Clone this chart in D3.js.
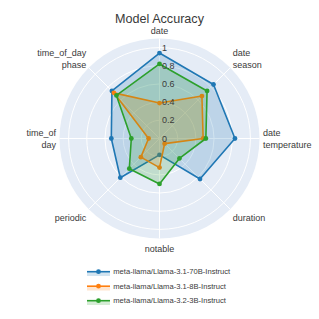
<!DOCTYPE html>
<html>
<head>
<meta charset="utf-8">
<script src="https://cdn.jsdelivr.net/npm/d3@7"></script>
<style>
	body { margin: 0; background: #fff; }
	text { font-family: "Liberation Sans", Arial, sans-serif; fill: #3a3a3a; }
</style>
</head>
<body>
<svg width="319" height="319"></svg>
<script>
const categories = ['date', 'date<br>season', 'date<br>temperature', 'duration', 'notable', 'periodic', 'time_of<br>day', 'time_of_day<br>phase'];
const seriesNames = ['meta-llama/Llama-3.1-70B-Instruct', 'meta-llama/Llama-3.1-8B-Instruct', 'meta-llama/Llama-3.2-3B-Instruct'];
const llama70b = [0.94, 0.84, 0.83, 0.63, 0.18, 0.61, 0.53, 0.74];
const llama8b = [0.39, 0.66, 0.48, 0.08, 0.32, 0.29, 0.12, 0.71];
const llama3b = [0.82, 0.74, 0.51, 0.31, 0.50, 0.47, 0.31, 0.67];
const radialTicks = [0, 0.2, 0.4, 0.6, 0.8, 1];

const colours = ['#1f77b4', '#ff7f0e', '#2ca02c'];
const series = [llama70b, llama8b, llama3b];

const svg = d3.select('svg');
const cx = 159.5, cy = 138.5, outer = 100;

const r = d3.scaleLinear().domain([0, 1.1]).range([0, outer]);
const angle = d3.scaleLinear().domain([0, categories.length]).range([0, 2 * Math.PI]);

const px = (i, v) => cx + r(v) * Math.sin(angle(i));
const py = (i, v) => cy - r(v) * Math.cos(angle(i));

svg.append('text')
	.attr('x', 159.5)
	.attr('y', 23)
	.attr('text-anchor', 'middle')
	.attr('font-size', 12.6)
	.text('Model Accuracy');

const polar = svg.append('g');

polar.append('circle')
	.attr('cx', cx).attr('cy', cy).attr('r', outer)
	.attr('fill', '#E5ECF6');

polar.selectAll('.grid')
	.data(radialTicks.slice(1))
	.enter()
	.append('circle')
	.attr('cx', cx).attr('cy', cy)
	.attr('r', d => r(d))
	.attr('fill', 'none')
	.attr('stroke', '#fff')
	.attr('stroke-width', 1);

polar.selectAll('.spoke')
	.data(categories)
	.enter()
	.append('line')
	.attr('x1', cx).attr('y1', cy)
	.attr('x2', (d, i) => px(i, 1.1))
	.attr('y2', (d, i) => py(i, 1.1))
	.attr('stroke', '#fff')
	.attr('stroke-width', 1);

// traces
const line = d3.line();
series.forEach((values, s) => {
	const pts = values.map((v, i) => [px(i, v), py(i, v)]);
	const g = svg.append('g');
	g.append('path')
		.attr('d', line(pts) + 'Z')
		.attr('fill', colours[s])
		.attr('fill-opacity', 0.2)
		.attr('stroke', colours[s])
		.attr('stroke-width', 1.6)
		.attr('stroke-linejoin', 'round');
	g.selectAll('circle')
		.data(pts)
		.enter()
		.append('circle')
		.attr('cx', d => d[0])
		.attr('cy', d => d[1])
		.attr('r', 2.4)
		.attr('fill', colours[s]);
});

// radial tick labels
svg.append('g')
	.selectAll('text')
	.data(radialTicks)
	.enter()
	.append('text')
	.attr('x', cx + 2.5)
	.attr('y', d => cy - r(d))
	.attr('dy', '0.35em')
	.attr('font-size', 9)
	.text(d => d3.format('~g')(d));

// angular labels
const labels = svg.append('g');
categories.forEach((c, i) => {
	const a = angle(i);
	const s = Math.sin(a), co = Math.cos(a);
	const lines = c.split('<br>');
	const lh = 11.7;
	const diag = Math.abs(s) > 0.5 && Math.abs(co) > 0.5;
	const k = diag ? 8.7 : (co > 0 ? 4 : 6.7);
	const x = cx + 103.5 * s;
	const yc = cy - 103.5 * co - co * k;
	const t = labels.append('text')
		.attr('font-size', 9)
		.attr('text-anchor', s > 0.1 ? 'start' : s < -0.1 ? 'end' : 'middle');
	lines.forEach((l, j) => {
		t.append('tspan')
			.attr('x', x)
			.attr('y', yc + (j - (lines.length - 1) / 2) * lh)
			.attr('dy', '0.35em')
			.text(l);
	});
});

// legend
const legend = svg.append('g');
seriesNames.forEach((name, s) => {
	const y = 271.7 + s * 14.5;
	legend.append('rect')
		.attr('x', 87).attr('y', y)
		.attr('width', 23).attr('height', 4.3)
		.attr('fill', colours[s])
		.attr('fill-opacity', 0.2);
	legend.append('line')
		.attr('x1', 87).attr('x2', 110)
		.attr('y1', y).attr('y2', y)
		.attr('stroke', colours[s])
		.attr('stroke-width', 1.6);
	legend.append('circle')
		.attr('cx', 98.5).attr('cy', y)
		.attr('r', 2.4)
		.attr('fill', colours[s]);
	legend.append('text')
		.attr('x', 113.3).attr('y', y)
		.attr('dy', '0.35em')
		.attr('font-size', 7.6)
		.text(name);
});
</script>
</body>
</html>
